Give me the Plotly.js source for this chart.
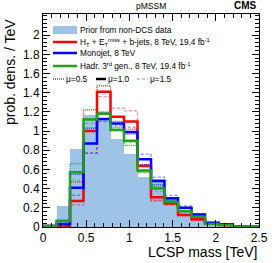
<!DOCTYPE html>
<html><head><meta charset="utf-8">
<script src="https://cdn.plot.ly/plotly-3.0.1.min.js"></script>
<style>html,body{margin:0;padding:0;background:#fff}#c{width:274px;height:263px}</style>
</head><body><div id="c"></div>
<script>
const binEdges = [0,0.15625,0.3125,0.46875,0.625,0.78125,0.9375,1.09375,1.25,1.40625,1.5625,1.71875,1.875,2.03125,2.1875,2.34375,2.5];
const prior   = [0,0.22,0.81,1.17,1.12,0.92,0.76,0.52,0.50,0.29,0.17,0.13,0.04,0.02,0.01,0.005];
const red10   = [0.01,0.015,0.27,1.00,1.41,1.15,1.10,0.635,0.31,0.245,0.125,0.08,0.04,0.02,0.005,0.003];
const red05   = [0.01,0.01,0.47,1.22,1.47,1.10,1.02,0.58,0.28,0.25,0.12,0.07,0.04,0.02,0.005,0.003];
const red15   = [0.01,0.01,0.23,0.77,1.36,1.24,1.21,0.65,0.27,0.23,0.12,0.08,0.04,0.02,0.005,0.003];
const blue10  = [0.01,0.03,0.41,0.87,1.125,1.08,0.99,0.705,0.48,0.30,0.20,0.13,0.045,0.028,0.005,0.003];
const blue05  = [0.01,0.03,0.55,1.03,1.19,1.04,0.97,0.65,0.44,0.28,0.17,0.12,0.04,0.02,0.005,0.003];
const blue15  = [0.01,0.02,0.33,0.77,1.10,1.06,1.04,0.76,0.52,0.33,0.22,0.14,0.05,0.03,0.008,0.003];
const green10 = [0.01,0.065,0.57,1.12,1.18,1.01,0.90,0.59,0.40,0.26,0.167,0.107,0.03,0.02,0.005,0.003];
const green05 = [0.01,0.07,0.66,1.13,1.20,1.02,0.85,0.57,0.42,0.28,0.16,0.10,0.03,0.02,0.005,0.003];
const green15 = [0.01,0.05,0.49,1.08,1.17,1.02,0.88,0.56,0.37,0.24,0.15,0.10,0.03,0.02,0.005,0.003];
const xTickVals = [0,0.5,1,1.5,2,2.5];
const xTickText = ['0','0.5','1','1.5','2','2.5'];
const yTickVals = [0,0.2,0.4,0.6,0.8,1,1.2,1.4,1.6,1.8,2];
const yTickText = ['0','0.2','0.4','0.6','0.8','1','1.2','1.4','1.6','1.8','2'];

const RED='#ff0000', BLUE='#0000ff', GREEN='#1fa01f', PRIOR='#9dc3e6';
const centers = prior.map((v,i)=> (binEdges[i]+binEdges[i+1])/2);
const widths = prior.map((v,i)=> binEdges[i+1]-binEdges[i]);
function step(vals, color, width, dash, opacity){
  return {type:'scatter', mode:'lines', x: binEdges, y: vals.concat([vals[vals.length-1]]),
    line:{shape:'hv', color:color, width:width, dash:dash}, opacity:opacity, hoverinfo:'skip', showlegend:false};
}
const traces = [
  {type:'bar', x:centers, y:prior, width:widths, marker:{color:PRIOR, line:{width:0}}, showlegend:false, hoverinfo:'skip'},
  step(red15, RED, 1.2, '3px,2px', 0.45),
  step(blue15, BLUE, 1.2, '3px,2px', 0.45),
  step(green15, GREEN, 1.2, '3px,2px', 0.45),
  step(red05, RED, 1.2, '1px,1px', 0.9),
  step(blue05, BLUE, 1.2, '1px,1px', 0.9),
  step(green05, GREEN, 1.2, '1px,1px', 0.9),
  step(red10, RED, 2.5, 'solid', 1),
  step(blue10, BLUE, 2.5, 'solid', 1),
  step(green10, GREEN, 2.5, 'solid', 1)
];
const L=43, T=14, W=216, H=213;
const px = x => (x-L)/W, py = y => (T+H-y)/H;
const F = 'Liberation Sans, Arial, sans-serif';
const ann = [];
const shp = [];
function text(x,y,t,size,anchor,extra){ ann.push(Object.assign({xref:'paper',yref:'paper',x:px(x),y:py(y),text:t,showarrow:false,xanchor:anchor||'left',yanchor:'middle',font:{family:F,size:size,color:'#000'}},extra||{})); }
function lineShape(x0,x1,y,color,width,dash,op){ shp.push({type:'line',xref:'paper',yref:'paper',x0:px(x0),x1:px(x1),y0:py(y),y1:py(y),line:{color:color,width:width,dash:dash},opacity:op||1}); }
// legend
shp.push({type:'rect',xref:'paper',yref:'paper',x0:px(53),x1:px(77),y0:py(34),y1:py(26),fillcolor:PRIOR,line:{width:0}});
text(78,30,'Prior from non-DCS data',8.3);
lineShape(53,77,42,RED,2.5,'solid');
text(78,42,'H<sub>T</sub> + E<sub>T</sub><sup>miss</sup> + b-jets, 8 TeV, 19.4 fb<sup>-1</sup>',8.3);
lineShape(53,77,53,BLUE,2.5,'solid');
text(78,53,'Monojet, 8 TeV',8.3);
lineShape(53,77,66,GREEN,2.5,'solid');
text(78,66,'Hadr. 3<sup>rd</sup> gen., 8 TeV, 19.4 fb<sup>-1</sup>',8.3);
lineShape(53,64,79,'#000',1.2,'1px,1px');
text(64,79,'μ=0.5',8.3);
lineShape(96,106,79,'#000',2.5,'solid');
text(106,79,'μ=1.0',8.3);
lineShape(137,148,79,'#555',1,'3px,2px',0.6);
text(148,79,'μ=1.5',8.3);
// header
text(151,6,'pMSSM',8.5,'center');
text(259,6,'<b>CMS</b>',10,'right');
// axis titles
text(259,251.5,'LCSP mass [TeV]',14,'right');
ann.push({xref:'paper',yref:'paper',x:px(10),y:py(72),text:'prob. dens. / TeV',textangle:-90,showarrow:false,xanchor:'center',yanchor:'middle',font:{family:F,size:14,color:'#000'}});

const layout = {
  width:274, height:263, margin:{l:L, r:274-L-W, t:T, b:263-T-H},
  paper_bgcolor:'#fff', plot_bgcolor:'#fff', bargap:0, barmode:'overlay', showlegend:false,
  xaxis:{range:[0,2.5], tickvals:xTickVals, ticktext:xTickText, ticks:'inside', ticklen:7, tickwidth:1, tickcolor:'#000',
    showline:true, linecolor:'#000', linewidth:1, mirror:'ticks', showgrid:false, zeroline:false,
    tickfont:{family:F,size:12,color:'#000'}, minor:{dtick:0.1, ticks:'inside', ticklen:4, tickcolor:'#000', showgrid:false}},
  yaxis:{range:[0,2.22], tickvals:yTickVals, ticktext:yTickText, ticks:'inside', ticklen:7, tickwidth:1, tickcolor:'#000',
    showline:true, linecolor:'#000', linewidth:1, mirror:'ticks', showgrid:false, zeroline:false,
    tickfont:{family:F,size:12,color:'#000'}, minor:{dtick:0.04, ticks:'inside', ticklen:4, tickcolor:'#000', showgrid:false}},
  annotations:ann, shapes:shp
};
Plotly.newPlot('c', traces, layout, {staticPlot:true, displayModeBar:false});
</script></body></html>
